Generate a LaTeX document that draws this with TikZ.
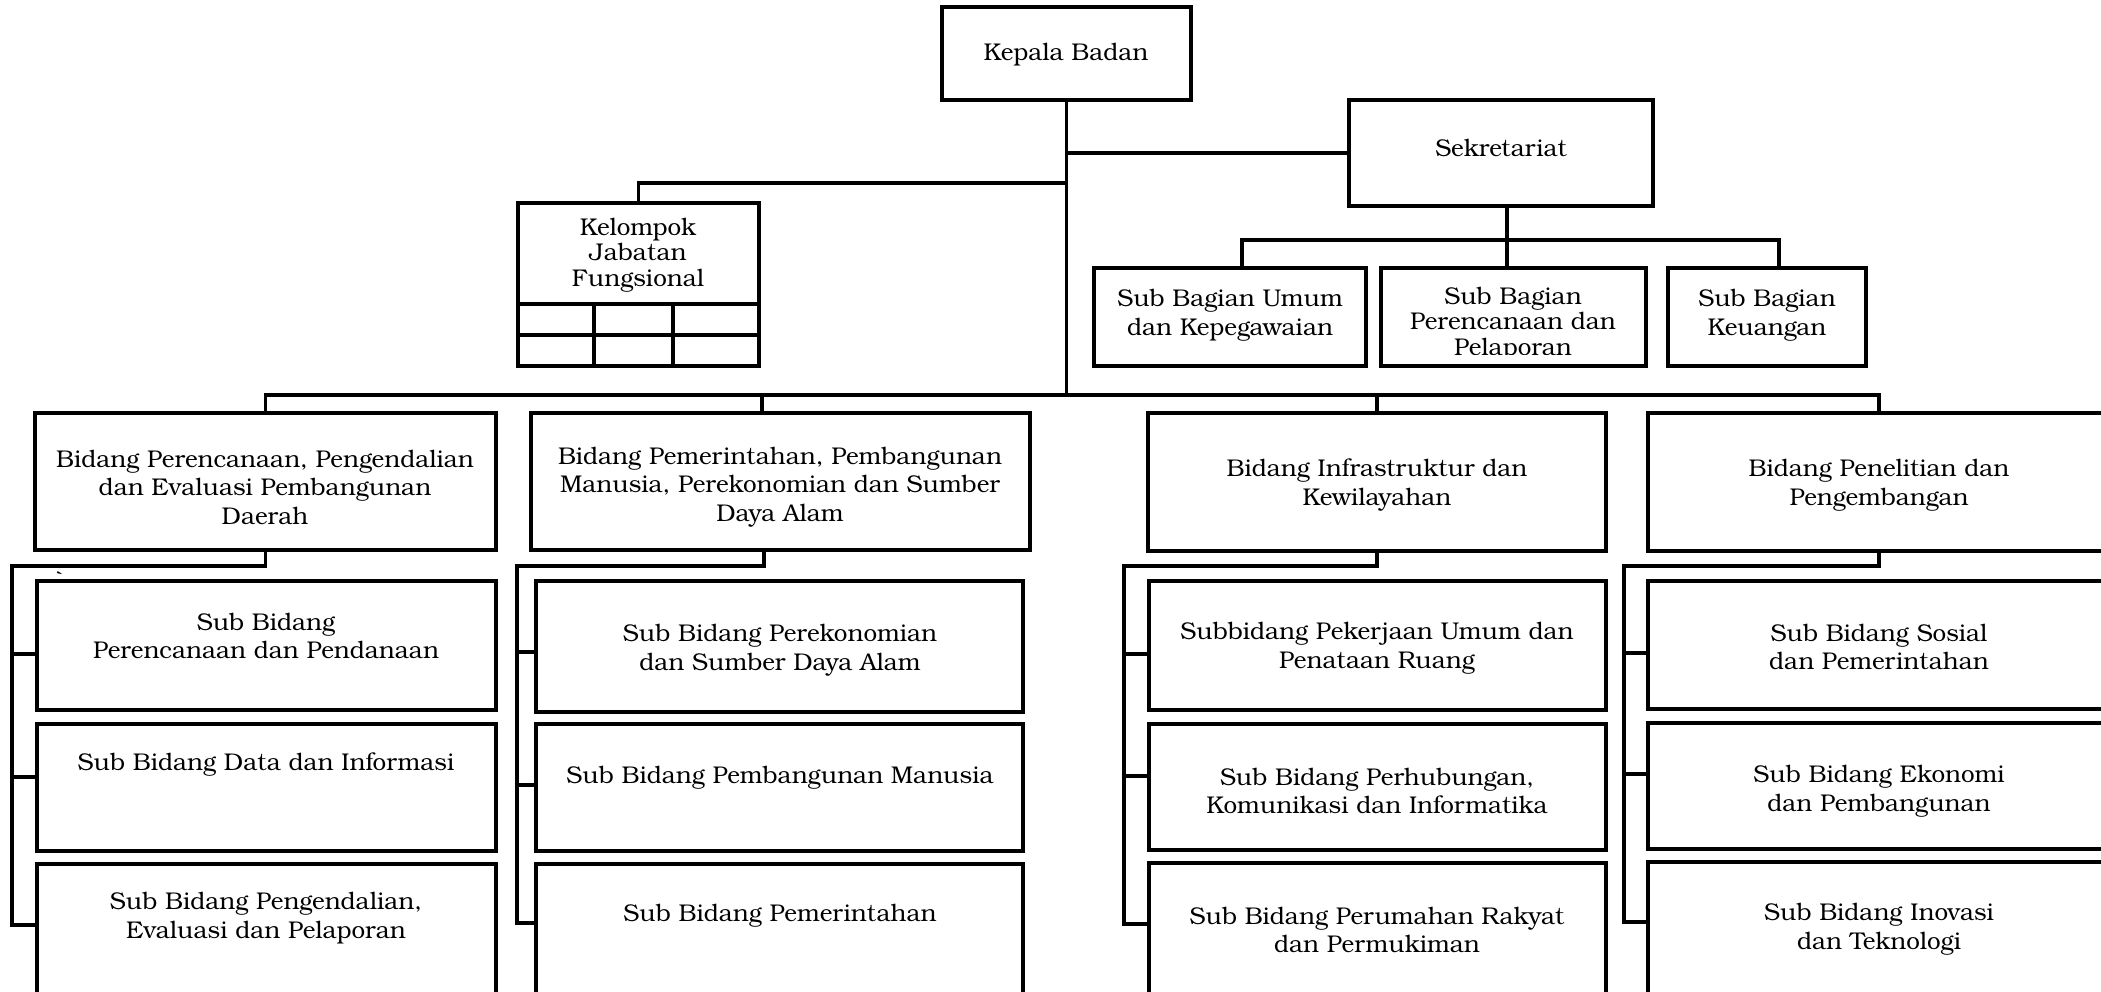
\documentclass[tikz,border=0pt]{standalone}
\usepackage{fontspec}
\setmainfont{texgyrebonum-regular.otf}
\usetikzlibrary{fit}
\begin{document}
\begin{tikzpicture}[x=1pt,y=-1pt,
  box/.style={draw, line width=4pt, inner sep=0pt},
  grid/.style={line width=4pt},
  conn/.style={line width=3.5pt},
  txt/.style={inner sep=0pt, align=center, font=\fontsize{24.2}{28.5}\selectfont},
  txts/.style={txt, font=\fontsize{24.2}{25.5}\selectfont}]
\useasboundingbox (0,0) rectangle (2101,991);
\clip (0,0) rectangle (2101,991);

% ---------- top level ----------
\node[box, fit={(942,7) (1191,100)}] (kepala) {};
\node[txt] (tkepala) at (1066,55) {Kepala Badan};
\node[box, fit={(1349,100) (1653,206)}] (sek) {};
\node[txt] (tsek) at (1501,148) {Sekretariat};
\node[box, fit={(518,203) (759,366)}] (kjf) {};
\node[txts] (tkjf) at (638,255) {Kelompok\\Jabatan\\Fungsional};
\draw[grid] (518,304) -- (759,304);
\draw[grid] (518,335) -- (759,335);
\draw[grid] (594,304) -- (594,366);
\draw[grid] (673,304) -- (673,366);

\node[box, fit={(1094,268) (1366,366)}] (sbu) {};
\node[txt] (tsbu) at (1230,315) {Sub Bagian Umum\\dan Kepegawaian};
\node[box, fit={(1381,268) (1646,366)}] (sbp) {};
\begin{scope}
  \clip (1383,270) rectangle (1644,354);
  \node[txts] (tsbp) at (1513,324) {Sub Bagian\\Perencanaan dan\\Pelaporan};
\end{scope}
\node[box, fit={(1668,268) (1866,366)}] (sbk) {};
\node[txt] (tsbk) at (1767,315) {Sub Bagian\\Keuangan};

% ---------- bidang ----------
\node[box, fit={(35,413) (496,550)}] (b1) {};
\node[txt] (tb1) at (265,487) {Bidang Perencanaan, Pengendalian\\dan Evaluasi Pembangunan\\Daerah};
\node[box, fit={(531,413) (1030,550)}] (b2) {};
\node[txt] (tb2) at (780,487) {Bidang Pemerintahan, Pembangunan\\Manusia, Perekonomian dan Sumber\\Daya Alam};
\node[box, fit={(1148,413) (1606,551)}] (b3) {};
\node[txt] (tb3) at (1377,485) {Bidang Infrastruktur dan\\Kewilayahan};
\node[box, fit={(1648,413) (2110,551)}] (b4) {};
\node[txt] (tb4) at (1879,485) {Bidang Penelitian dan\\Pengembangan};

% ---------- sub bidang col 1 ----------
\node[box, fit={(37,581) (496,710)}] (c1a) {};
\node[txt] (tc1a) at (266,636) {Sub Bidang\\Perencanaan dan Pendanaan};
\node[box, fit={(37,724) (496,851)}] (c1b) {};
\node[txt] (tc1b) at (266,765) {Sub Bidang Data dan Informasi};
\node[box, fit={(37,864) (496,1000)}] (c1c) {};
\node[txt] (tc1c) at (266,918) {Sub Bidang Pengendalian,\\Evaluasi dan Pelaporan};
\node[txt] (grave) at (60,580) {\textasciigrave};

% ---------- col 2 ----------
\node[box, fit={(536,581) (1023,712)}] (c2a) {};
\node[txt] (tc2a) at (780,650) {Sub Bidang Perekonomian\\dan Sumber Daya Alam};
\node[box, fit={(536,724) (1023,851)}] (c2b) {};
\node[txt] (tc2b) at (780,778) {Sub Bidang Pembangunan Manusia};
\node[box, fit={(536,864) (1023,1000)}] (c2c) {};
\node[txt] (tc2c) at (780,916) {Sub Bidang Pemerintahan};

% ---------- col 3 ----------
\node[box, fit={(1149,581) (1606,710)}] (c3a) {};
\node[txt] (tc3a) at (1377,648) {Subbidang Pekerjaan Umum dan\\Penataan Ruang};
\node[box, fit={(1149,724) (1606,850)}] (c3b) {};
\node[txt] (tc3b) at (1377,791) {Sub Bidang Perhubungan,\\Komunikasi dan Informatika};
\node[box, fit={(1149,863) (1606,1000)}] (c3c) {};
\node[txt] (tc3c) at (1377,930) {Sub Bidang Perumahan Rakyat\\dan Permukiman};

% ---------- col 4 ----------
\node[box, fit={(1648,581) (2110,709)}] (c4a) {};
\node[txt] (tc4a) at (1879,647) {Sub Bidang Sosial\\dan Pemerintahan};
\node[box, fit={(1648,723) (2110,849)}] (c4b) {};
\node[txt] (tc4b) at (1879,791) {Sub Bidang Ekonomi\\dan Pembangunan};
\node[box, fit={(1648,862) (2110,1000)}] (c4c) {};
\node[txt] (tc4c) at (1879,929) {Sub Bidang Inovasi\\dan Teknologi};

% ---------- connectors ----------
\coordinate (bus) at (kepala.south |- 0,395);
\draw[conn] (kepala.south) -- (bus);
\draw[conn] (kepala.south |- sek.west) -- (sek.west);
\draw[conn] (kepala.south |- 0,183) -| (kjf.north);

\coordinate (ssb) at (1507,240);
\draw[conn] (sek.south -| ssb) -- (ssb |- sbp.north);
\draw[conn] (sbu.north -| 1242,0) |- (ssb) -| (sbk.north -| 1779,0);

\coordinate (d2) at (762,395);
\draw[conn] (b1.north) |- (bus) -- (b4.north |- bus) -- (b4.north);
\draw[conn] (d2) -- (d2 |- b2.north);
\draw[conn] (b3.north |- bus) -- (b3.north);

% column 1
\coordinate (sp1) at (12,566);
\draw[conn] (b1.south) |- (sp1) |- (c1c.west |- 0,925);
\draw[conn] (sp1 |- 0,654) -- (c1a.west |- 0,654);
\draw[conn] (sp1 |- 0,777) -- (c1b.west |- 0,777);
% column 2
\coordinate (sp2) at (517,566);
\draw[conn] (b2.south -| 764,0) |- (sp2) |- (c2c.west |- 0,923);
\draw[conn] (sp2 |- 0,652) -- (c2a.west |- 0,652);
\draw[conn] (sp2 |- 0,785) -- (c2b.west |- 0,785);
% column 3
\coordinate (sp3) at (1124,566);
\draw[conn] (b3.south) |- (sp3) |- (c3c.west |- 0,924);
\draw[conn] (sp3 |- 0,654) -- (c3a.west |- 0,654);
\draw[conn] (sp3 |- 0,776) -- (c3b.west |- 0,776);
% column 4
\coordinate (sp4) at (1624,566);
\draw[conn] (b4.south) |- (sp4) |- (c4c.west |- 0,922);
\draw[conn] (sp4 |- 0,653) -- (c4a.west |- 0,653);
\draw[conn] (sp4 |- 0,774) -- (c4b.west |- 0,774);
\end{tikzpicture}
\end{document}
